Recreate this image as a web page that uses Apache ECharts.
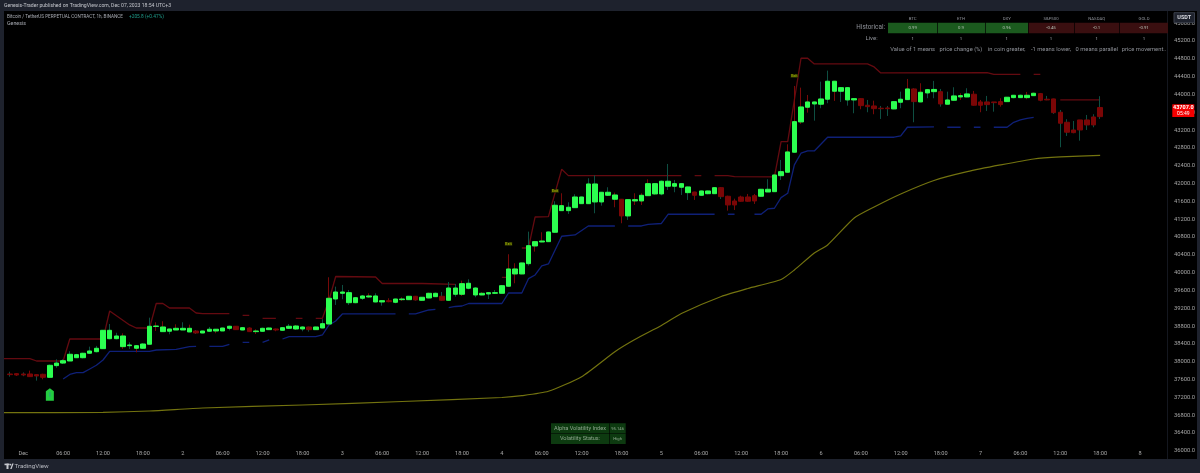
<!DOCTYPE html>
<html>
<head>
<meta charset="utf-8">
<style>html,body{margin:0;padding:0;background:#000}#chart{width:1200px;height:473px}</style>
<script src="https://cdn.jsdelivr.net/npm/echarts@6/dist/echarts.min.js"></script>
</head>
<body>
<div id="chart"></div>
<script>
// BTCUSDT.P hourly bars; the first bar is 22:00 on Nov 30, the last 18:00 on Dec 7.
const opens = [
37725,37732,37725,37725,37710,37718,37650,37912,37970,38016,
38090,38090,38190,38225,38293,38517,38517,38338,38360,38302,
38302,38392,38790,38675,38684,38712,38712,38668,38690,38645,
38684,38690,38690,38750,38796,38712,38757,38675,38683,38720,
38735,38706,38750,38735,38735,38780,38720,38757,38847,39408,
39536,39325,39325,39424,39453,39341,39341,39370,39334,39393,
39393,39469,39379,39431,39460,39469,39379,39514,39514,39649,
39498,39498,39521,39536,39536,39694,39970,39970,40201,40598,
40688,40695,40906,41391,41391,41458,41548,41548,41586,41586,
41736,41647,41647,41272,41609,41609,41727,41766,41766,41939,
41939,41916,41795,41810,41736,41772,41772,41907,41714,41608,
41698,41698,41727,41714,41810,41817,42176,42253,42702,43382,
43712,43786,43780,43892,44071,44071,43876,43876,43905,43757,
43741,43690,43696,43674,43824,43883,44123,43831,44033,44062,
44062,43780,43869,43943,43943,44004,43831,43831,43831,43838,
43838,43928,43928,43928,43972,44018,43892,43899,43600,43375,
43202,43427,43427,43494,43501];
const closes = [
37710,37702,37702,37665,37680,37650,37920,37970,38023,38167,
38158,38190,38241,38302,38705,38705,38578,38578,38376,38360,
38398,38796,38802,38780,38735,38750,38750,38750,38645,38690,
38729,38729,38757,38796,38720,38764,38675,38690,38750,38757,
38712,38764,38796,38802,38780,38720,38780,38854,39424,39565,
39565,39550,39437,39476,39476,39476,39370,39348,39408,39408,
39469,39386,39447,39536,39536,39379,39655,39655,39752,39761,
39655,39536,39550,39550,39707,40082,40082,40217,40605,40695,
40710,40913,41512,41503,41467,41698,41698,41990,41990,41804,
41804,41743,41272,41638,41638,41736,41997,41997,42051,42051,
41997,41997,41923,41736,41833,41833,41907,41705,41519,41519,
41602,41602,41608,41871,41871,42192,42266,42709,43389,43719,
43831,43831,43898,44296,44296,44152,44152,43905,43748,43725,
43681,43680,43680,43838,43892,44123,43838,44049,44107,44112,
43786,43876,43966,43973,44011,43757,43757,43771,43815,43771,
43937,43981,43981,43981,44026,43869,43876,43591,43353,43151,
43142,43202,43315,43315,43707];
const highs = [
37775,37745,37760,37800,37720,37730,37935,38055,38055,38235,
38175,38200,38338,38355,38712,38847,38650,38638,38436,38376,
38414,38989,38885,38908,38742,38840,38885,38832,38712,38695,
38780,38735,38765,38810,38802,38780,38772,38729,38764,38764,
38742,38773,38847,38825,38795,38787,38787,38953,39896,39685,
39723,39610,39453,39498,39536,39536,39378,39424,39415,39446,
39476,39476,39453,39550,39550,39565,39790,39745,39820,39851,
39671,39559,39559,39610,39723,40412,40210,40224,40920,40695,
40906,40920,41602,41781,41579,41759,41705,42118,42185,41810,
41916,41795,41653,41638,41781,41781,42096,42006,42065,42439,
42080,42006,41930,41817,41840,41840,41916,41916,41727,41660,
41727,41766,41766,41878,42096,42208,42529,42881,44190,44152,
43988,43838,44287,44534,44303,44161,44161,43914,43914,43876,
43860,43741,43741,43847,44062,44347,44138,44251,44123,44303,
44123,44062,44161,44026,44139,44078,43876,43966,43831,43914,
43943,43988,43995,44056,44040,44033,43966,43905,43651,43443,
43404,43427,43539,43555,43960];
const lows = [
37665,37680,37675,37660,37575,37605,37650,37865,37950,38016,
38085,38075,38175,38210,38285,38503,38503,38286,38286,38210,
38293,38392,38690,38675,38616,38712,38712,38668,38622,38640,
38675,38640,38690,38705,38712,38705,38668,38622,38675,38712,
38684,38697,38735,38712,38683,38675,38712,38750,38840,39274,
39402,39274,39312,39386,39438,39334,39258,39334,39312,39364,
39386,39370,39370,39424,39453,39364,39370,39460,39476,39626,
39447,39491,39408,39521,39536,39685,39761,39963,40156,40471,
40681,40688,40897,41391,41317,41451,41541,41541,41332,41503,
41721,41467,41108,41182,41519,41519,41721,41750,41736,41855,
41804,41743,41631,41631,41727,41759,41765,41653,41391,41406,
41593,41593,41541,41705,41810,41810,42080,42253,42693,43337,
43591,43411,43690,43802,43854,43831,43748,43577,43667,43600,
43555,43449,43517,43667,43690,43876,43375,43824,43914,43914,
43726,43780,43860,43876,43937,43748,43600,43629,43613,43725,
43831,43914,43921,43891,43966,43847,43870,43562,42814,43068,
43128,42962,43202,43263,43450];
// Wick tone per bar: t = teal, r = dark red.
const wickTones = (
"trtrtr" + "tttttttttt" + "trtrt" + "trrtr" + "trtttrrttt" +
"rrttrttrtt" + "ttrtttrtrt" + "trtrttrrttt" + "trttrttrrr" + "rtrrttrttt" +
"ttttrrtrrrrtttt" + "trttrtrrrrrttrt" + "rrrrtttrtttrtr" + "ttrtrtrtttt" + "trtrrttrr" + "ttrrt"
).padEnd(165, "t");
const redHeldHours = [162];

const upperHours = [-3,1,2,6,7,12,13,16,17,19,20,21,22,25,26,27,31,32,33,34,35,36,38,39,41,42,43,44,45,46,47,53,54,60,65,66,72,73,74,75,76,77,79,81,82,99,100,101,102,103,104,106,107,113,114,115,117,118,119,127,128,129,145,146,150,151,152,153,155,156,162];
const upperValues = [38068,38068,38016,38016,38510,38510,39139,38825,38757,38757,39307,39307,39206,39206,39094,39078,39078,null,39042,39042,null,38975,38975,null,38975,38975,null,38975,38975,39386,39913,39902,39756,39756,39734,null,39895,39895,null,40553,40553,41249,41256,42320,42177,42177,null,42177,42177,null,42177,42177,42154,42147,42940,42940,44812,44812,44684,44684,44617,44482,44489,44448,44448,null,44448,44448,null,43876,43876];
const lowerHours = [6,7,8,9,10,11,12,13,19,20,23,25,26,27,28,30,31,32,33,34,35,36,37,38,39,40,44,45,46,47,48,56,57,58,59,60,61,62,63,64,65,66,67,72,73,75,76,77,78,79,81,83,85,89,90,91,93,94,96,97,104,105,106,107,108,110,111,112,113,114,115,116,117,118,119,121,131,132,133,137,138,139,141,142,143,144,145,146,148,149,150,151,152];
const lowerValues = [37613,37714,37754,37754,37837,37920,38039,38234,38234,38263,38275,38337,38346,null,38346,38346,38391,null,38436,38436,null,38436,38488,null,38510,38562,38562,38600,38825,38915,39072,39072,null,39072,39072,39117,39161,39173,null,39213,39240,39251,39307,39307,39543,39543,39864,39947,40149,40194,40816,40845,41047,41047,null,41047,41047,41081,41103,41310,41310,null,41310,41310,null,41310,41310,41429,41445,41683,41781,42417,42680,42731,42731,43039,43039,43068,43263,43270,null,43263,43263,null,43263,43263,null,43263,43263,43375,43427,43461,43487];
const trendHours = [-3,12,19,27,42,57,72,75,79,84,89,92,96,99,105,109,114,116,119,121,125,128,132,137,142,147,152,156,162];
const trendValues = [36856,36865,36894,36961,37029,37107,37197,37237,37336,37664,38225,38499,38813,39083,39465,39644,39846,40059,40441,40621,41227,41474,41766,42069,42266,42417,42551,42596,42630];

const exitHours = [73,80,116];
const exitValues = [40643,41833,44415];
const entryHour = 4;
const entryValue = 37265;

const timeLabels = ["Dec","06:00","12:00","18:00","2","06:00","12:00","18:00","3","06:00","12:00","18:00","4","06:00","12:00","18:00","5","06:00","12:00","18:00","6","06:00","12:00","18:00","7","06:00","12:00","18:00","8"];
const firstHour = -3, lastHour = 171, firstBarHour = -2;
const hourSlots = [];
for (let h = firstHour; h <= lastHour; h++) hourSlots.push(h >= 0 && h % 6 === 0 ? timeLabels[h / 6] : "");

const corrHeaders = ["BTC","ETH","DXY","S&P500","NASDAQ","GOLD"];
const corrHistorical = ["0.99","0.9","0.96","-0.45","-0.1","-0.91"];
const corrLive = ["1","1","1","1","1","1"];
const corrNote = ["Value of 1 means","price change (%)","in coin greater,","-1 means lower,","0 means parallel","price movement.."];

const C = {
  frame:"#1e222d", up:"#2cff50", down:"#7b0606", tealWick:"#0e4f42", redWick:"#760909",
  upper:"#640a10", lower:"#0f2078", trend:"#73730f", text:"#a8abb3", axis:"#a6a6a6"
};
const FONT = "Roboto, sans-serif";
const slot = h => h - firstHour;
const pairs = (hs, vs) => hs.map((h, i) => [slot(h), vs[i]]);
const paint = c => ({color:c, color0:c, borderColor:c, borderColor0:c});

const wicks = [{value:["-","-","-","-"]}], bodies = [{value:["-","-","-","-"]}];
opens.forEach((o, i) => {
  const h = firstBarHour + i, c = closes[i];
  const red = c < o || redHeldHours.includes(h);
  wicks.push({value:[o, c, lows[i], highs[i]], itemStyle:paint(wickTones[i] === "r" ? C.redWick : C.tealWick)});
  bodies.push({value:[o, c, Math.min(o, c), Math.max(o, c)], itemStyle:paint(red ? C.down : C.up)});
});

function label(x, y, text, size, fill, align, weight) {
  return {type:"text", z:120, x, y, style:{text, fill, font:(weight || "normal") + " " + size + "px " + FONT, align:align || "left", verticalAlign:"middle"}};
}
function box(x, y, width, height, fill, z, stroke) {
  return {type:"rect", z:z || 100, shape:{x, y, width, height}, style:{fill, stroke:stroke || null, lineWidth:stroke ? 1 : 0}};
}

const colX = [912.7,961,1006.7,1051,1096.7,1144];
const cellL = [888,938,985.7,1028.7,1075,1120];
const cellR = [937.3,985,1028,1074.3,1119.3,1168];
const panel = [
  box(0,0,1200,11,C.frame), box(0,459,1200,14,C.frame), box(0,0,4,473,C.frame), box(1197,0,3,473,C.frame),
  box(1167,11,1,448,"#14171f",90),
  label(4,5.7,"Genesis-Trader published on TradingView.com, Dec 07, 2023 18:54 UTC+3",5.1,"#c4c6cc"),
  label(7,16.5,"Bitcoin / TetherUS PERPETUAL CONTRACT, 1h, BINANCE",4.6,C.text),
  label(129,16.5,"+205.8 (+0.47%)",4.8,"#1f9e8c"),
  label(7,23.7,"Genesis",5.3,C.text),
  label(885,27.5,"Historical:",6.4,"#8f9299","right"),
  label(871.5,38.5,"Live:",6,"#8f9299","center"),
  box(1174,12.7,20.5,10,C.frame,130,"#3c404c"),
  {type:"text",z:131,x:1184.2,y:17.8,style:{text:"USDT",fill:"#d8dae0",font:"bold 5.5px "+FONT,align:"center",verticalAlign:"middle"}},
  box(1172.3,104.3,22,12.7,"#f40000",130),
  {type:"text",z:131,x:1183.3,y:108,style:{text:"43707.0",fill:"#fff",font:"bold 5.5px "+FONT,align:"center",verticalAlign:"middle"}},
  {type:"text",z:131,x:1183.3,y:113.7,style:{text:"05:49",fill:"#fff",font:"5px "+FONT,align:"center",verticalAlign:"middle"}},
  box(551,423.3,74.7,20.7,"#0d3a10",110),
  box(551,433.4,74.7,0.6,"#000",111), box(609.3,423.3,0.6,20.7,"#000",111),
  label(580,428.4,"Alpha Volatility Index",5.6,"#8fa78f","center"),
  label(580,439,"Volatility Status:",5.6,"#8fa78f","center"),
  label(617.6,428.6,"95.146",4.2,"#8fa78f","center"),
  label(617.6,439,"High",4.2,"#8fa78f","center"),
  box(4.5,463.6,5,1.6,"#c6c8ce",120), box(6.5,463.6,2,5.4,"#c6c8ce",120),
  {type:"circle",z:120,shape:{cx:10.4,cy:464.6,r:0.9},style:{fill:"#c6c8ce"}},
  {type:"polygon",z:120,shape:{points:[[10.2,469],[12.2,463.6],[13.6,463.6],[11.6,469]]},style:{fill:"#c6c8ce"}},
  label(14.5,466.3,"TradingView",6.2,"#b8bac1")
];
corrHeaders.forEach((t, i) => {
  const pos = corrHistorical[i][0] !== "-";
  panel.push(label(colX[i],18.6,t,4.3,"#8f9299","center"));
  panel.push(box(cellL[i],22.7,cellR[i]-cellL[i],10.6,pos ? "#1b5a1e" : "#3a0f10",105));
  panel.push(label(colX[i],28,corrHistorical[i],4.3,"#b6c2b6","center"));
  panel.push(label(colX[i],38.6,corrLive[i],4.3,"#a8abb3","center"));
  panel.push(label(colX[i],49.2,corrNote[i],5.8,"#8f9299","center"));
});

const chart = echarts.init(document.getElementById("chart"), null, {renderer:"canvas"});
chart.setOption({
  animation:false,
  backgroundColor:"#000",
  grid:{left:-1.3, width:1164.6, top:23.14, height:427.68, containLabel:false},
  xAxis:{
    type:"category", data:hourSlots, boundaryGap:true,
    axisLine:{show:false}, axisTick:{show:false}, splitLine:{show:false},
    axisLabel:{interval:0, hideOverlap:false, margin:-1, fontSize:5.6, color:C.axis, fontFamily:FONT, verticalAlign:"top", lineHeight:7}
  },
  yAxis:{
    type:"value", position:"right", min:36000, max:45600, interval:400,
    axisLine:{show:false}, axisTick:{show:false}, splitLine:{show:false}, showMinLabel:false,
    axisLabel:{margin:10.7, fontSize:5.8, color:C.axis, fontFamily:FONT, formatter:v => v.toFixed(1)}
  },
  graphic:{elements:panel},
  series:[
    {name:"Trend",type:"line",data:pairs(trendHours,trendValues),showSymbol:false,symbol:"none",clip:false,smooth:0.2,z:2,lineStyle:{color:C.trend,width:1.2}},
    {name:"Upper band",type:"line",data:pairs(upperHours,upperValues),showSymbol:false,symbol:"none",clip:false,z:2,lineStyle:{color:C.upper,width:1.3}},
    {name:"Lower band",type:"line",data:pairs(lowerHours,lowerValues),showSymbol:false,symbol:"none",clip:false,z:2,lineStyle:{color:C.lower,width:1.3}},
    {name:"Wicks",type:"candlestick",data:wicks,barWidth:1,z:3,clip:false,itemStyle:{borderWidth:1}},
    {name:"Bodies",type:"candlestick",data:bodies,barWidth:5,z:4,clip:false,itemStyle:{borderWidth:1}},
    {name:"Exit",type:"scatter",z:5,symbol:"rect",symbolSize:[7.5,4],itemStyle:{color:"#2a3200"},
      data:pairs(exitHours,exitValues),
      label:{show:true,position:"inside",formatter:"Exit",fontSize:3.8,fontWeight:"bold",color:"#b9cc00",fontFamily:FONT}},
    {name:"Entry",type:"scatter",z:5,symbol:"path://M4 0 L8 3 L8 12 L0 12 L0 3 Z",symbolSize:[8,12.5],symbolKeepAspect:false,
      itemStyle:{color:C.up},data:[[slot(entryHour),entryValue]]},
    {name:"Entry mark",type:"scatter",z:6,symbol:"rect",symbolSize:[1.6,4.5],itemStyle:{color:"#2a9f7c"},data:[[slot(entryHour),entryValue]]}
  ]
});
</script>
</body>
</html>
